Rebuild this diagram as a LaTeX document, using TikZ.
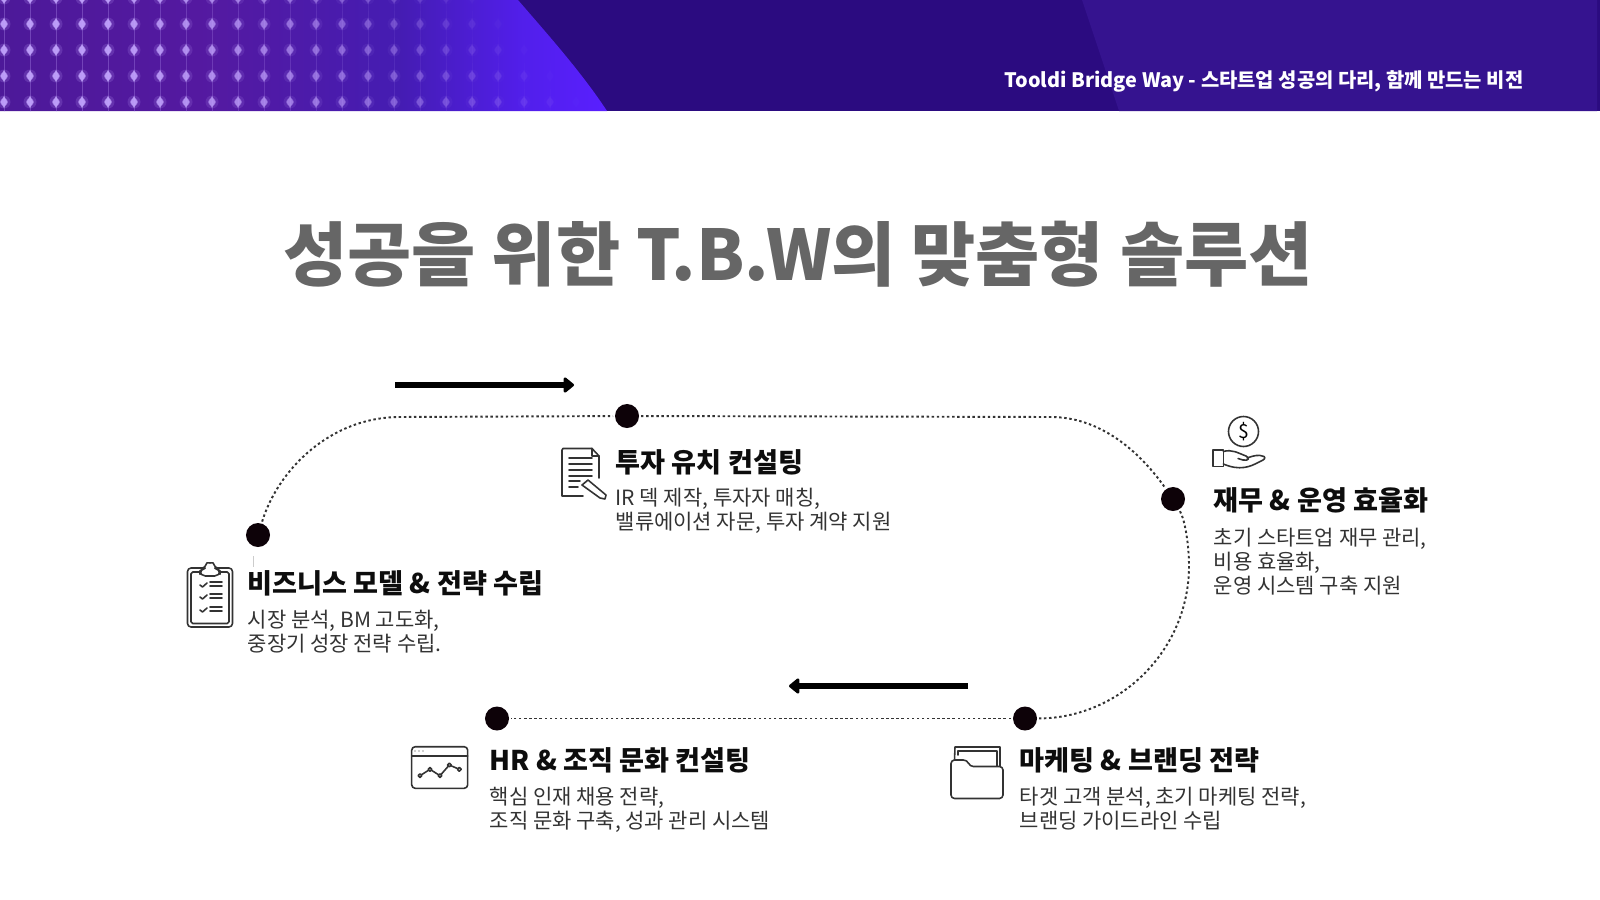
\documentclass[tikz,border=0pt]{standalone}
\usepackage{fontspec}
\setmainfont{Noto Sans CJK KR}
\usepackage{xcolor}
\usepackage{tikz}
\usetikzlibrary{positioning,calc,arrows.meta}
\definecolor{bandDark}{HTML}{2B0B80}
\definecolor{bandPanel}{HTML}{35138F}
\definecolor{gridGlow}{HTML}{C4A6FF}
\definecolor{titleGray}{HTML}{666666}
\definecolor{bodyGray}{HTML}{333333}
\definecolor{stopBlack}{HTML}{0D0208}
\pgfdeclarehorizontalshading{bandshade}{100bp}{
  rgb(0bp)=(0.30,0.10,0.60);
  rgb(25bp)=(0.30,0.10,0.60);
  rgb(42bp)=(0.33,0.10,0.63);
  rgb(58bp)=(0.27,0.11,0.70);
  rgb(68bp)=(0.32,0.12,0.92);
  rgb(75bp)=(0.35,0.12,1.00);
  rgb(100bp)=(0.35,0.12,1.00)}
\tikzset{
  stopdot/.style={circle, fill=stopBlack, inner sep=0pt, minimum size=0.24cm, outer sep=0.02cm},
  trail/.style={draw=black!80, line width=0.55pt, dash pattern=on 0.7pt off 0.75pt},
  flowarrow/.style={draw=black, line width=1.5pt, -{Triangle[round,length=3.2pt,width=5pt]}},
  steptitle/.style={anchor=base west, inner sep=0pt, text=black!95, font=\bfseries\fontsize{7.72}{9}\selectfont},
  stepbody/.style={anchor=base west, inner sep=0pt, text=bodyGray, font=\fontsize{5.97}{7}\selectfont},
  iconline/.style={draw=black!80, line width=0.45pt, line join=round, line cap=round},
}
\begin{document}
\begin{tikzpicture}[x=0.01cm,y=-0.01cm]
	\useasboundingbox (0,0) rectangle (1600,900);
	% header band
	\fill[bandDark] (0,0) rectangle (1600,111);
	\fill[bandPanel] (1082,0) -- (1597,0) -- (1597,111) -- (1119,111) -- cycle;
	\shade[shading=bandshade]
		(0,0) -- (518,0) .. controls (550,37) and (582,73) .. (607,111) -- (0,111) -- cycle;
	\begin{scope}
		\clip (0,0) rectangle (1600,111);
		\foreach \rowy in {-2,24,50,76,102} {
			\foreach \colnum in {0,...,22} {
				\pgfmathsetmacro{\colx}{4+26*\colnum}
				\pgfmathsetmacro{\rowend}{490+0.92*\rowy}
				\pgfmathsetmacro{\fade}{max(0,min(1,1.25*(1-\colx/\rowend)))}
				\fill[gridGlow, opacity=0.18*\fade] (\colx,\rowy) circle (6.5);
				\draw[gridGlow, line width=0.15pt, opacity=0.3*\fade] (\colx,\rowy-13) -- (\colx,\rowy+13);
				\fill[gridGlow, opacity=0.4*\fade] (\colx,\rowy) circle (4);
				\fill[gridGlow, opacity=0.85*\fade] (\colx,\rowy-6) -- (\colx+3.5,\rowy) -- (\colx,\rowy+6) -- (\colx-3.5,\rowy) -- cycle;
			}
		}
	\end{scope}
	\node[anchor=base east, inner sep=0pt, text=white, font=\bfseries\fontsize{5.65}{7}\selectfont] (bandtext) at (1524,87.5) {Tooldi Bridge Way - 스타트업 성공의 다리, 함께 만드는 비전};

	% title
	\node[inner sep=0pt, text=titleGray, font=\bfseries\fontsize{19.85}{24}\selectfont] (title) at (798,254) {성공을 위한 T.B.W의 맞춤형 솔루션};

	% stops
	\node[stopdot] (bizdot) at (258,535) {};
	\node[stopdot] (invdot) at (627,416) {};
	\node[stopdot] (findot) at (1173,499) {};
	\node[stopdot] (mktdot) at (1025,718.5) {};
	\node[stopdot] (hrdot) at (497,718.5) {};

	\draw[trail] (bizdot) .. controls (278,470) and (330,417) .. (400,417) -- (invdot);
	\draw[trail] (invdot) -- (1051,417) .. controls (1095,417) and (1135,445) .. (findot);
	\draw[trail] (findot) .. controls (1185,520) and (1189,545) .. (1189,566) .. controls (1189,650) and (1120,718) .. (mktdot);
	\draw[trail] (mktdot) -- (hrdot);
	\coordinate (bizstem) at (253,571);
	\coordinate (bizstemtop) at (253,556);
	\draw[black!20, line width=0.2pt, dashed] (bizstemtop) -- (bizstem);

	% arrows
	\coordinate (topstart) at (395,385);
	\coordinate (topend) at (574,385);
	\coordinate (lowstart) at (968,686);
	\coordinate (lowend) at (789,686);
	\draw[flowarrow] (topstart) -- (topend);
	\draw[flowarrow] (lowstart) -- (lowend);

	% labels
	\node[steptitle] (biztitle) at (247,593) {비즈니스 모델 \& 전략 수립};
	\node[stepbody] (bizline1) at (247,627) {시장 분석, BM 고도화,};
	\node[stepbody] (bizline2) at (247,651) {중장기 성장 전략 수립.};

	\node[steptitle] (invtitle) at (615,472) {투자 유치 컨설팅};
	\node[stepbody] (invline1) at (615,505.5) {IR 덱 제작, 투자자 매칭,};
	\node[stepbody] (invline2) at (615,529.5) {밸류에이션 자문, 투자 계약 지원};

	\node[steptitle] (fintitle) at (1213,510) {재무 \& 운영 효율화};
	\node[stepbody] (finline1) at (1213,545.5) {초기 스타트업 재무 관리,};
	\node[stepbody] (finline2) at (1213,569.5) {비용 효율화,};
	\node[stepbody] (finline3) at (1213,593.5) {운영 시스템 구축 지원};

	\node[steptitle] (mkttitle) at (1019,770) {마케팅 \& 브랜딩 전략};
	\node[stepbody] (mktline1) at (1019,804.5) {타겟 고객 분석, 초기 마케팅 전략,};
	\node[stepbody] (mktline2) at (1019,828.5) {브랜딩 가이드라인 수립};

	\node[steptitle] (hrtitle) at (489,770) {HR \& 조직 문화 컨설팅};
	\node[stepbody] (hrline1) at (489,804.5) {핵심 인재 채용 전략,};
	\node[stepbody] (hrline2) at (489,828.5) {조직 문화 구축, 성과 관리 시스템};

	% clipboard icon
	\draw[iconline, rounded corners=1] (187.5,568) rectangle (232.5,627);
	\draw[iconline, rounded corners=0.5] (191,572) rectangle (229,623.5);
	\draw[iconline, fill=white, rounded corners=1.5] (200,576) -- (200,569) -- (206,568) .. controls (207,563) and (213,563) .. (214,568) -- (220,569) -- (220,576) -- cycle;
	\foreach \rowy in {585,597,610} {
		\draw[iconline] (200,\rowy) -- (202.5,\rowy+2) -- (207,\rowy-2);
		\draw[iconline] (210,\rowy-3) -- (222,\rowy-3);
		\draw[iconline] (210,\rowy+1) -- (222,\rowy+1);
	}

	% document icon
	\draw[iconline] (592,448.5) -- (563,448.5) -- (562,450) -- (562,496) -- (583,496);
	\draw[iconline] (592,448.5) -- (599,456) -- (599,478);
	\draw[iconline] (592,448.5) -- (592,456) -- (599,456);
	\foreach \rowy in {458,464,470,476} {
		\draw[iconline] (569,\rowy) -- (592,\rowy);
	}
	\draw[iconline] (569,481) -- (580,481);
	\draw[iconline] (569,487) -- (578,487);
	\draw[iconline, fill=white] (588,480) -- (606,495) -- (605,499) -- (600,498) -- (582,485) -- cycle;

	% hand icon
	\node[circle, draw=black!80, line width=0.45pt, inner sep=0pt, minimum size=0.3cm, font=\fontsize{5.5}{6}\selectfont] (coin) at (1243.5,431.5) {\$};
	\draw[iconline] (1212.7,450) rectangle (1223.3,466.7);
	\draw[iconline] (1223.3,451.5) .. controls (1232,449) and (1238,453) .. (1246,456) .. controls (1250,458) and (1249,461) .. (1243,460) -- (1238,458.5);
	\draw[iconline] (1247,458) .. controls (1253,456) and (1258,454) .. (1264,456.5) .. controls (1266,458) and (1264,460) .. (1260,461.5) .. controls (1250,467) and (1240,471) .. (1223.3,464);

	% window icon
	\draw[iconline, rounded corners=1] (411.7,746.7) rectangle (467.7,788.3);
	\draw[iconline] (411.7,755.7) -- (467.7,755.7);
	\foreach \colx in {415,419,423} {
		\fill[black!80] (\colx,751) circle (0.7);
	}
	\draw[iconline] (420,775.7) -- (430,769.3) -- (440,775.7) -- (449.3,765) -- (459.3,769.3);
	\foreach \colx/\rowy in {420/775.7,430/769.3,440/775.7,449.3/765,459.3/769.3} {
		\draw[iconline, fill=white] (\colx,\rowy) circle (1.9);
	}

	% folder icon
	\draw[iconline] (958,755) -- (958,751) -- (997,751) -- (997,766);
	\draw[iconline] (954.5,760) -- (955,747) -- (1000,747) -- (1000,766);
	\draw[iconline, fill=white, rounded corners=1] (951,760) -- (967,760) -- (970,766.5) -- (1003,766.5) -- (1003,798.5) -- (951,798.5) -- cycle;
\end{tikzpicture}
\end{document}
